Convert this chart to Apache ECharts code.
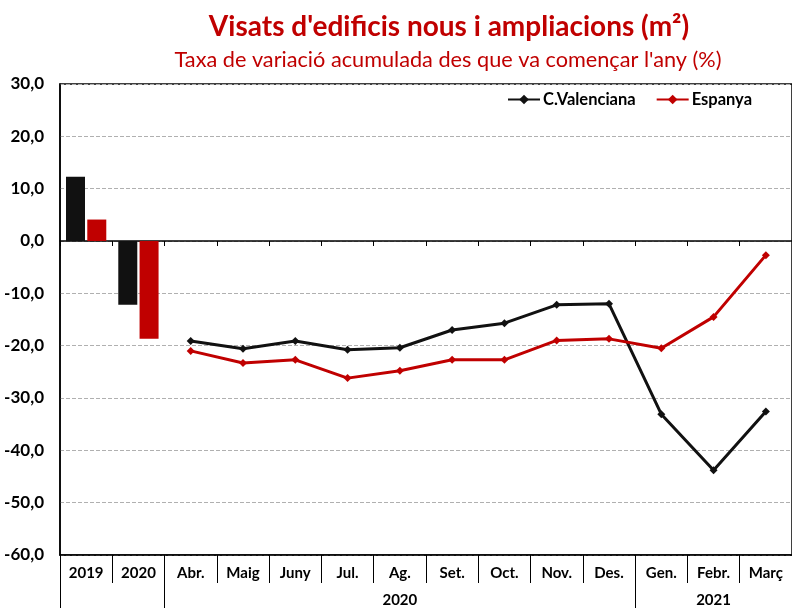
<!DOCTYPE html>
<html><head><meta charset="utf-8">
<script src="https://cdn.jsdelivr.net/npm/echarts@6/dist/echarts.min.js"></script>
<style>html,body{margin:0;padding:0;background:#fff}#c{width:792px;height:608px}</style>
</head><body><div id="c"></div><script>
const categories = ['2019','2020','Abr.','Maig','Juny','Jul.','Ag.','Set.','Oct.','Nov.','Des.','Gen.','Febr.','Març'];
const barValencia = [12.3, -12.2, null, null, null, null, null, null, null, null, null, null, null, null];
const barEspanya  = [4.1, -18.7, null, null, null, null, null, null, null, null, null, null, null, null];
const lineValencia = [null, null, -19.1, -20.6, -19.1, -20.8, -20.4, -17.0, -15.7, -12.2, -12.0, -33.1, -43.8, -32.6];
const lineEspanya  = [null, null, -21.0, -23.3, -22.7, -26.2, -24.8, -22.7, -22.7, -19.0, -18.7, -20.5, -14.5, -2.7];
const yearGroups = [{label:'2020', start:2, end:10}, {label:'2021', start:11, end:13}];
const seriesNames = ['C.Valenciana', 'Espanya'];
const titleText = "Visats d'edificis nous i ampliacions (m²)";
const subtitleText = "Taxa de variació acumulada des que va començar l'any (%)";

const FONT = 'Lato';
const BLACK = '#111111';
const RED = '#c00000';

const groupLabelAt = {};
const groupBoundaries = new Set([0]);
yearGroups.forEach(g => { groupLabelAt[(g.start + g.end) / 2] = g.label; groupBoundaries.add(g.start); });

const chart = echarts.init(document.getElementById('c'));
chart.setOption({
  animation: false,
  backgroundColor: '#fff',
  graphic: [
    { type: 'text', x: 449, y: 27, style: { text: titleText, fontFamily: FONT, fontWeight: 'bold', fontSize: 28, fill: RED, textAlign: 'center', textVerticalAlign: 'middle' } },
    { type: 'text', x: 448, y: 60, style: { text: subtitleText, fontFamily: FONT, fontSize: 21.7, fill: RED, textAlign: 'center', textVerticalAlign: 'middle' } }
  ],
  legend: {
    data: seriesNames,
    left: 502, top: 86,
    itemWidth: 32, itemHeight: 12, itemGap: 20,
    textStyle: { fontFamily: FONT, fontWeight: 'bold', fontSize: 16.5, color: '#000', padding: [0,0,0,-2] }
  },
  grid: { left: 60, top: 84, width: 735, height: 471, show: true, borderColor: '#000', borderWidth: 1.5, containLabel: false },
  xAxis: [
    { type: 'category', data: categories, position: 'bottom',
      axisLine: { onZero: true, lineStyle: { color: '#000', width: 1.5 } },
      axisTick: { show: true, length: 5, lineStyle: { color: '#000', width: 1 } },
      axisLabel: { show: false }, splitLine: { show: false } },
    { type: 'category', data: categories, position: 'bottom',
      axisLine: { onZero: false, show: true, lineStyle: { color: '#000', width: 1.5 } },
      axisTick: { show: true, length: 28, interval: 0, lineStyle: { color: '#000', width: 1 } },
      axisLabel: { show: true, interval: 0, margin: 11, fontFamily: FONT, fontWeight: 'bold', fontSize: 15, color: '#000' },
      splitLine: { show: false } },
    { type: 'category', data: categories, position: 'bottom',
      axisLine: { onZero: false, show: false },
      axisTick: { show: true, length: 54, interval: (i) => groupBoundaries.has(i), lineStyle: { color: '#000', width: 1 } },
      axisLabel: { show: true, interval: 0, margin: 38, fontFamily: FONT, fontWeight: 'bold', fontSize: 15, color: '#000',
        formatter: (v, i) => groupLabelAt[i] || '' },
      splitLine: { show: false } }
  ],
  yAxis: {
    type: 'value', min: -60, max: 30, interval: 10,
    axisLine: { show: true, lineStyle: { color: '#000', width: 1.5 } },
    axisTick: { show: false },
    axisLabel: { margin: 16, fontFamily: FONT, fontWeight: 'bold', fontSize: 17, color: '#000',
      formatter: v => v.toFixed(1).replace('.', ',') },
    splitLine: { show: true, lineStyle: { color: '#b0b0b0', type: 'dashed', width: 1 } }
  },
  series: [
    { name: 'barCV', type: 'bar', data: barValencia, barWidth: 19, barGap: '12%', itemStyle: { color: BLACK }, xAxisIndex: 0 },
    { name: 'barES', type: 'bar', data: barEspanya, barWidth: 19, itemStyle: { color: RED }, xAxisIndex: 0 },
    { name: seriesNames[0], type: 'line', data: lineValencia, xAxisIndex: 0, symbol: 'diamond', symbolSize: 8,
      lineStyle: { color: BLACK, width: 3 }, itemStyle: { color: BLACK } },
    { name: seriesNames[1], type: 'line', data: lineEspanya, xAxisIndex: 0, symbol: 'diamond', symbolSize: 8,
      lineStyle: { color: RED, width: 3 }, itemStyle: { color: RED } }
  ]
});
</script></body></html>
